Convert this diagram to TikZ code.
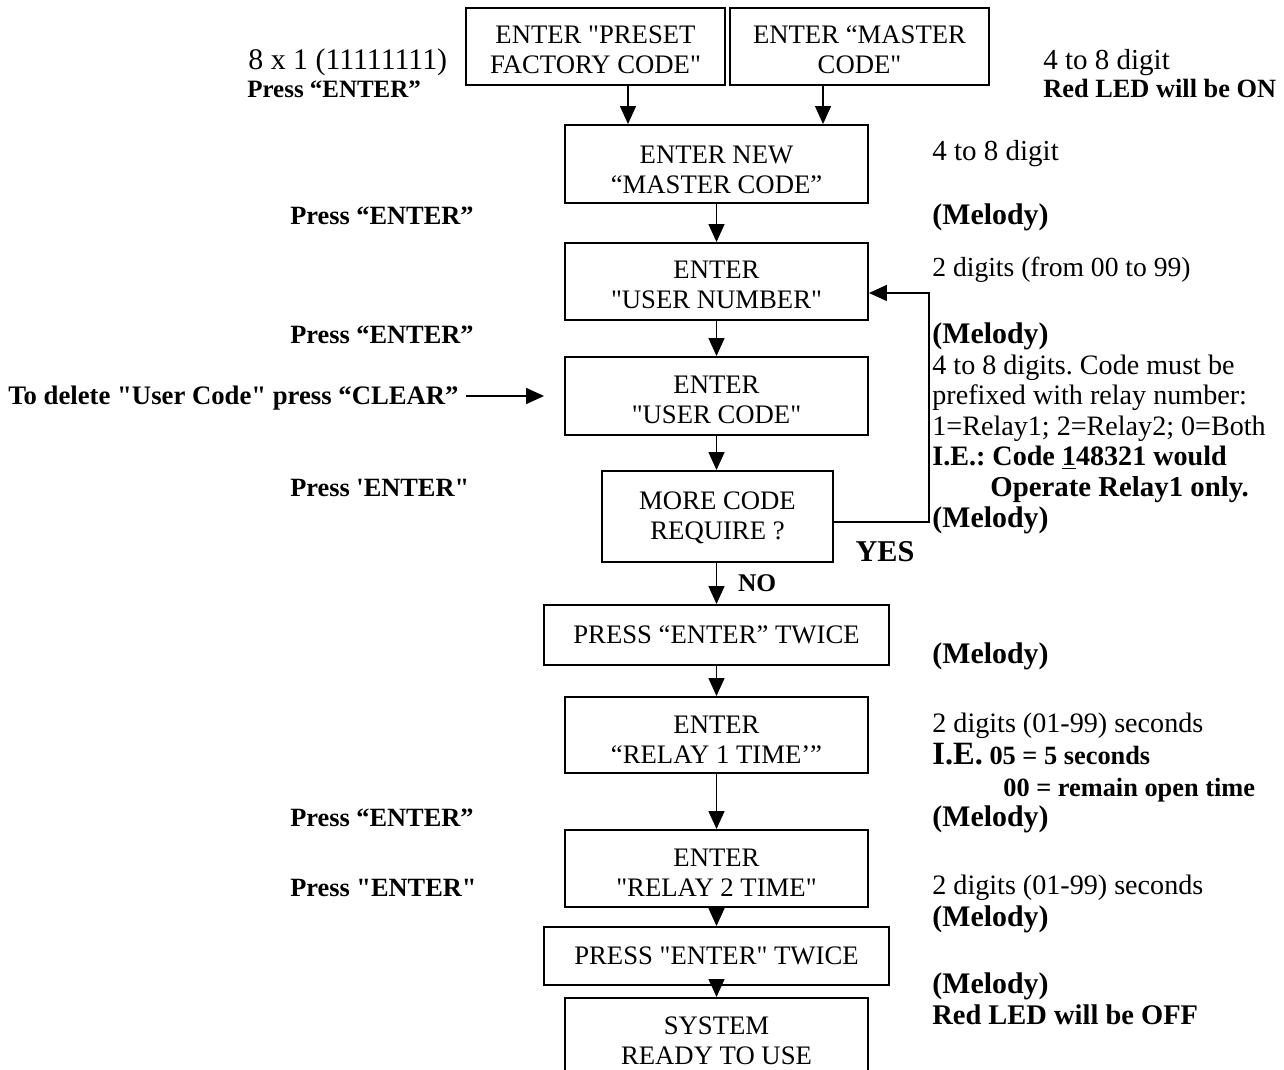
\documentclass[tikz,border=0pt]{standalone}
\usepackage{fontspec}
\setmainfont{Liberation Serif}[Ligatures=TeXOff]
\usetikzlibrary{arrows.meta}
\frenchspacing
\begin{document}
\begin{tikzpicture}[x=0.02cm,y=-0.02cm,
  box/.style={draw, line width=1.1pt, align=center, inner sep=0pt, minimum width=6.06cm,
    font=\fontsize{15.2pt}{17.1pt}\selectfont},
  two/.style={text height=#1, text depth=0pt},
  arr/.style={line width=0.8pt, -{Triangle[width=0.32cm,length=0.36cm]}},
  rg/.style={anchor=base west, inner sep=0pt, font=\fontsize{16pt}{18pt}\selectfont},
  bd/.style={anchor=base west, inner sep=0pt, font=\fontsize{16pt}{18pt}\selectfont\bfseries},
  pr/.style={anchor=base west, inner sep=0pt, font=\fontsize{15pt}{18pt}\selectfont\bfseries},
  ml/.style={anchor=base west, inner sep=0pt, font=\fontsize{17pt}{18pt}\selectfont\bfseries}]
\useasboundingbox (0,0) rectangle (1284,1070);

% boxes
\node[box, two=1.08cm, minimum width=5.18cm, minimum height=1.54cm] (pf) at (595.5,46.5) {ENTER "PRESET\\FACTORY CODE"};
\node[box, two=1.08cm, minimum width=5.18cm, minimum height=1.54cm] (mc) at (859.5,46.5) {ENTER “MASTER\\CODE"};
\node[box, two=1.18cm, minimum height=1.56cm] (nm) at (716.5,164) {ENTER NEW\\“MASTER CODE”};
\node[box, two=1.08cm, minimum height=1.54cm] (un) at (716.5,281.5) {ENTER\\"USER NUMBER"};
\node[box, two=1.10cm, minimum height=1.56cm] (uc) at (716.5,396) {ENTER\\"USER CODE"};
\node[box, two=0.93cm, minimum width=4.62cm, minimum height=1.82cm] (mo) at (717.5,516.5) {MORE CODE\\REQUIRE ?};
\node[box, minimum width=6.9cm, minimum height=1.2cm] (t1) at (716.5,635) {PRESS “ENTER” TWICE};
\node[box, two=1.14cm, minimum height=1.52cm] (r1) at (716.5,735) {ENTER\\“RELAY 1 TIME’”};
\node[box, two=1.12cm, minimum height=1.54cm] (r2) at (716.5,868.5) {ENTER\\"RELAY 2 TIME"};
\node[box, minimum width=6.9cm, minimum height=1.16cm] (t2) at (716.5,956) {PRESS "ENTER" TWICE};
\node[box, two=0.95cm, minimum height=1.72cm, anchor=north] (sy) at (716.5,997) {SYSTEM\\READY TO USE};

% connectors
\draw[arr] ([xshift=0.65cm]pf.south) -- ([xshift=0.65cm]pf.south |- nm.north);
\draw[arr] ([xshift=-0.73cm]mc.south) -- ([xshift=-0.73cm]mc.south |- nm.north);
\draw[arr] (nm) -- (un);
\draw[arr] (un) -- (uc);
\draw[arr] (uc) -- (mo.north -| uc.south);
\draw[arr] (mo.south -| uc.south) -- (t1.north) node[midway, right=0.3cm, font=\fontsize{14.5pt}{17pt}\selectfont\bfseries] (no) {NO};
\draw[arr] (t1) -- (r1);
\draw[arr] (r1) -- (r2);
\draw[arr] (r2) -- (t2);
\draw[arr] (t2) -- (sy);
\draw[arr] ([yshift=-0.11cm]mo.east) -| ([xshift=1.2cm,yshift=-0.23cm]un.east) -- ([yshift=-0.23cm]un.east);
\node[font=\fontsize{17.2pt}{20pt}\selectfont\bfseries] (yes) at (885,552) {YES};

% left labels
\node[rg, font=\fontsize{17pt}{18pt}\selectfont] (la) at (248,69.5) {8 x 1 (11111111)};
\node[pr, font=\fontsize{14.2pt}{17pt}\selectfont\bfseries] (lb) at (247,97.5) {Press “ENTER”};
\node[pr] (lc) at (290,224.5) {Press “ENTER”};
\node[pr] (ld) at (290,343.5) {Press “ENTER”};
\node[pr, font=\fontsize{15.2pt}{18pt}\selectfont\bfseries] (le) at (8,404.5) {To delete "User Code" press “CLEAR”};
\node[pr] (lf) at (290,496.5) {Press 'ENTER"};
\node[pr] (lg) at (290,826.5) {Press “ENTER”};
\node[pr] (lh) at (290,896.5) {Press "ENTER"};
\coordinate (clrend) at ([xshift=-0.4cm]uc.west);
\draw[arr] (le.east |- clrend) ++(0.14cm,0) -- (clrend);

% right labels
\node[rg, font=\fontsize{16.5pt}{18pt}\selectfont] (ta) at (1043,69.5) {4 to 8 digit};
\node[pr] (tb) at (1043,97.5) {Red LED will be ON};
\node[rg, font=\fontsize{16.5pt}{18pt}\selectfont] (tc) at (932,160.5) {4 to 8 digit};
\node[ml] (td) at (932,224.5) {(Melody)};
\node[rg, font=\fontsize{15.7pt}{18pt}\selectfont] (te) at (932,276.5) {2 digits (from 00 to 99)};
\node[ml] (tf) at (932,343.5) {(Melody)};
\node[rg] (tg) at (932,374.5) {4 to 8 digits. Code must be};
\node[rg] (th) at (932,404.5) {prefixed with relay number:};
\node[rg] (ti) at (932,435.5) {1=Relay1; 2=Relay2; 0=Both};
\node[bd] (tj) at (932,465.5) {I.E.: Code \underline{1}48321 would};
\node[bd, font=\fontsize{16.4pt}{18pt}\selectfont\bfseries] (tk) at (990,496.5) {Operate Relay1 only.};
\node[ml] (tl) at (932,527.5) {(Melody)};
\node[ml] (tm) at (932,663.5) {(Melody)};
\node[rg] (tn) at (932,732.5) {2 digits (01-99) seconds};
\node[pr] (to) at (932,764.5) {{\fontsize{18.5pt}{20pt}\selectfont I.E.} 05 = 5 seconds};
\node[pr] (tp) at (1003,796.5) {00 = remain open time};
\node[ml] (tq) at (932,826.5) {(Melody)};
\node[rg] (tr) at (932,894.5) {2 digits (01-99) seconds};
\node[ml] (ts) at (932,926.5) {(Melody)};
\node[ml] (tt) at (932,993.5) {(Melody)};
\node[bd, font=\fontsize{16.2pt}{18pt}\selectfont\bfseries] (tu) at (932,1024.5) {Red LED will be OFF};
\end{tikzpicture}
\end{document}
